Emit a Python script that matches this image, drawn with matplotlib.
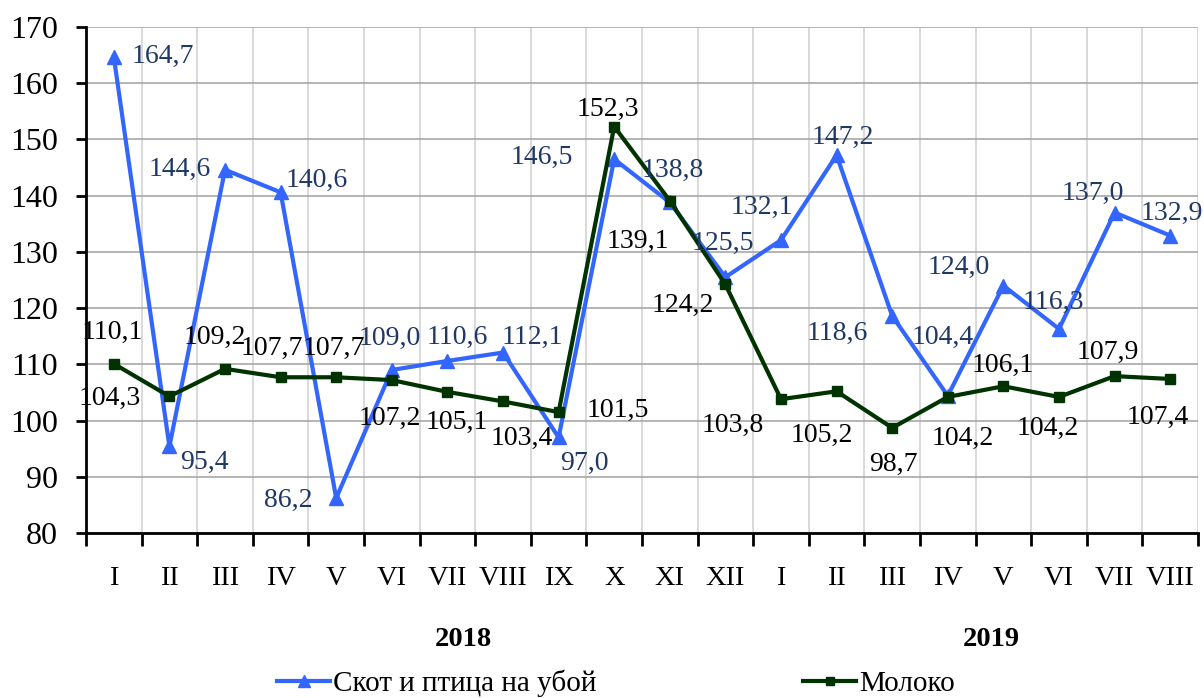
import matplotlib
matplotlib.use("Agg")
import matplotlib.pyplot as plt
import numpy as np

months = ["I", "II", "III", "IV", "V", "VI", "VII", "VIII", "IX", "X", "XI", "XII",
          "I", "II", "III", "IV", "V", "VI", "VII", "VIII"]
livestock = [164.7, 95.4, 144.6, 140.6, 86.2, 109.0, 110.6, 112.1, 97.0, 146.5,
             138.8, 125.5, 132.1, 147.2, 118.6, 104.4, 124.0, 116.3, 137.0, 132.9]
milk = [110.1, 104.3, 109.2, 107.7, 107.7, 107.2, 105.1, 103.4, 101.5, 152.3,
        139.1, 124.2, 103.8, 105.2, 98.7, 104.2, 106.1, 104.2, 107.9, 107.4]
years = ["2018", "2019"]
series_names = ["Скот и птица на убой", "Молоко"]

# label offsets in pixels from each point (hand placed, like in the source)
livestock_off = [(49, 0), (35, -16), (-45, 0), (36, 12), (-48, -2), (-2, 32), (10, 24),
                 (29, 15), (26, -26), (-72, 2), (3, 32), (-3, 34), (-19, 33), (6, 18),
                 (-55, -17), (-5, 58), (-45, 18), (-6, 27), (-22, 19), (2, 22)]
milk_off = [(-2, 31), (-60, -2), (-10, 31), (-9, 29), (-2, 29), (-2, -38), (9, -31),
            (19, -37), (59, 2), (-6, 17), (-32, -41), (-43, -21), (-48, -26), (-15, -44),
            (1, -37), (15, -41), (-1, 21), (-11, -31), (-7, 24), (-12, -38)]

plt.rcParams['font.family'] = ['Liberation Serif', 'DejaVu Serif']

blue = '#3366FF'
green = '#003300'
navy = '#1F3864'

fig = plt.figure(figsize=(12.04, 6.98), dpi=100)
ax = fig.add_axes([86 / 1204, 1 - 533 / 698, 1112 / 1204, 506 / 698])

x = np.arange(len(months))
ax.plot(x, livestock, color=blue, lw=3, marker='^', ms=10.5, zorder=3, label=series_names[0])
ax.plot(x, milk, color=green, lw=3, marker='s', ms=6.5, zorder=4, label=series_names[1])

for xi, v, (dx, dy) in zip(x, livestock, livestock_off):
    ax.annotate(f"{v:.1f}".replace('.', ','), (xi, v), xytext=(dx, dy),
                textcoords='offset pixels', ha='center', va='center',
                fontsize=20, color=navy, zorder=5)
for xi, v, (dx, dy) in zip(x, milk, milk_off):
    ax.annotate(f"{v:.1f}".replace('.', ','), (xi, v), xytext=(dx, dy),
                textcoords='offset pixels', ha='center', va='center',
                fontsize=20, color='black', zorder=5)

ax.set_xlim(-0.5, len(months) - 0.5)
ax.set_ylim(80, 170)
ax.set_yticks(np.arange(80, 171, 10))
ax.set_xticks(x)
ax.set_xticklabels(months)
ax.set_xticks(np.arange(-0.5, len(months), 1), minor=True)

ax.tick_params(axis='x', which='major', length=0, pad=24, labelsize=20.5)
ax.tick_params(axis='x', which='minor', length=9, width=2, direction='out')
ax.tick_params(axis='y', length=7, width=2, pad=13, labelsize=23)

ax.grid(axis='y', color='#A8A8A8', lw=1.2, zorder=0)
ax.grid(axis='x', which='minor', color='#D3D3D3', lw=1.2, zorder=0)
ax.set_axisbelow(True)
for s in ['top', 'right']:
    ax.spines[s].set_visible(False)
for s in ['left', 'bottom']:
    ax.spines[s].set_linewidth(2)

fig.text(463 / 1204, 1 - 640 / 698, years[0], ha='center', va='center',
         fontsize=20.5, fontweight='bold')
fig.text(991 / 1204, 1 - 640 / 698, years[1], ha='center', va='center',
         fontsize=20.5, fontweight='bold')

fig.legend(loc='center', bbox_to_anchor=(616 / 1204, 1 - 683 / 698), ncol=2,
           frameon=False, fontsize=21, handlelength=1.8, handletextpad=0.1,
           columnspacing=7.1, borderaxespad=0, markerscale=0.8)

fig.savefig('out.png', dpi=100)
